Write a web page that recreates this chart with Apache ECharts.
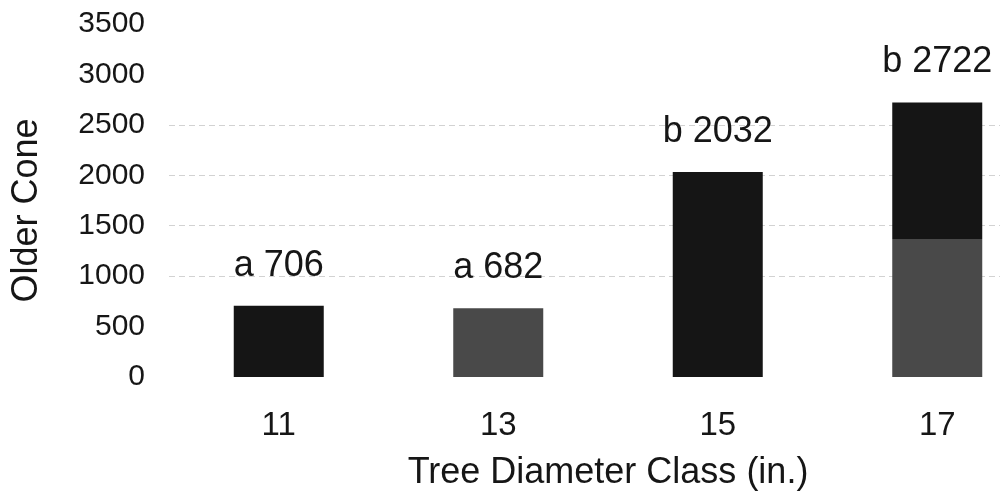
<!DOCTYPE html>
<html>
<head>
<meta charset="utf-8">
<style>
  html, body { margin: 0; padding: 0; background: #ffffff; }
  #chart { width: 1000px; height: 494px; }
</style>
<script src="https://cdn.jsdelivr.net/npm/echarts@6/dist/echarts.min.js"></script>
</head>
<body>
<div id="chart"></div>
<script>
// ---- data ----
const categories = ['11', '13', '15', '17'];
const values = [706, 682, 2032, 2722];
const groupLetters = ['a', 'a', 'b', 'b'];
const yTicks = [0, 500, 1000, 1500, 2000, 2500, 3000, 3500];

// ---- styles ----
const DARK = '#151515';
const GRAY = '#494949';
const TEXT = '#161616';
const FONT = '"Liberation Sans", Arial, Helvetica, sans-serif';

const barColors = [
  DARK,
  GRAY,
  DARK,
  { type: 'linear', x: 0, y: 0, x2: 0, y2: 1,
    colorStops: [
      { offset: 0, color: DARK }, { offset: 0.498, color: DARK },
      { offset: 0.498, color: GRAY }, { offset: 1, color: GRAY }
    ] }
];

const gridColors = yTicks.map(v => (v >= 1000 && v <= 2500) ? '#d2d2d2' : 'rgba(0,0,0,0)');

const chart = echarts.init(document.getElementById('chart'), null, { renderer: 'canvas' });
chart.setOption({
  backgroundColor: '#ffffff',
  animation: false,
  grid: { left: 169, width: 878, top: 24, height: 353, containLabel: false, outerBoundsMode: 'none' },
  xAxis: {
    type: 'category',
    data: categories,
    name: 'Tree Diameter Class (in.)',
    nameLocation: 'middle',
    nameGap: 78,
    nameTextStyle: { fontFamily: FONT, fontSize: 36, color: TEXT },
    axisLine: { show: false },
    axisTick: { show: false },
    axisLabel: { fontFamily: FONT, fontSize: 33, color: TEXT, margin: 32 }
  },
  yAxis: {
    type: 'value',
    min: yTicks[0],
    max: yTicks[yTicks.length - 1],
    interval: yTicks[1] - yTicks[0],
    name: 'Older Cone',
    nameLocation: 'middle',
    nameGap: 124,
    nameTextStyle: { fontFamily: FONT, fontSize: 36, color: TEXT, padding: [0, 20, 0, 0] },
    axisLine: { show: false },
    axisTick: { show: false },
    axisLabel: { fontFamily: FONT, fontSize: 30, color: TEXT, margin: 24, formatter: v => String(v) },
    splitLine: { show: true, lineStyle: { color: gridColors, type: [6, 4], width: 1 } }
  },
  series: [{
    type: 'bar',
    barWidth: 90,
    data: values.map((v, i) => ({ value: v, itemStyle: { color: barColors[i] } })),
    label: {
      show: true,
      position: 'top',
      distance: 22,
      fontFamily: FONT,
      fontSize: 36,
      color: TEXT,
      formatter: p => groupLetters[p.dataIndex] + ' ' + p.value
    }
  }]
});
</script>
</body>
</html>
